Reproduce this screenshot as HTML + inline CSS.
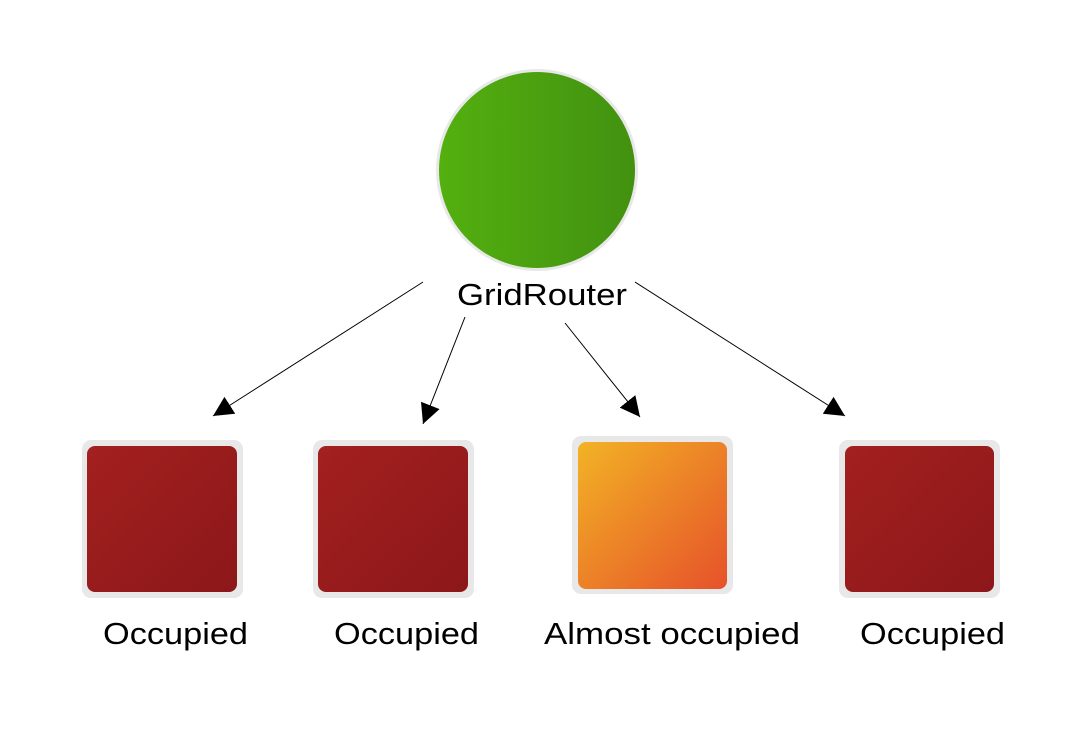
<!DOCTYPE html>
<html><head><style>
body{margin:0;width:1088px;height:734px;background:#fff;overflow:hidden;font-family:"Liberation Sans",sans-serif}
</style></head><body>
<svg width="1088" height="734" viewBox="0 0 1088 734">
<defs>
<linearGradient id="g" x1="0" y1="0" x2="1" y2="0"><stop offset="0" stop-color="#53b00f"/><stop offset="1" stop-color="#429110"/></linearGradient>
<linearGradient id="r" x1="0" y1="0" x2="1" y2="1"><stop offset="0" stop-color="#a3201e"/><stop offset="1" stop-color="#8c171a"/></linearGradient>
<linearGradient id="o" x1="0" y1="0" x2="1" y2="1"><stop offset="0" stop-color="#f2b325"/><stop offset="1" stop-color="#e6512a"/></linearGradient>
<marker id="a" viewBox="0 0 10 10" refX="10" refY="5" markerWidth="20" markerHeight="20" markerUnits="userSpaceOnUse" orient="auto"><path d="M0,0L10,5L0,10z" fill="#000"/></marker>
</defs>
<circle cx="537" cy="170" r="101" fill="#e8e8e8"/>
<circle cx="537" cy="170" r="98" fill="url(#g)"/>
<text x="457" y="305" font-size="31" textLength="170" lengthAdjust="spacingAndGlyphs">GridRouter</text>
<g stroke="#000" stroke-width="1" marker-end="url(#a)">
<line x1="423" y1="282" x2="213" y2="416"/>
<line x1="465" y1="317" x2="423" y2="424"/>
<line x1="565" y1="323" x2="640" y2="417"/>
<line x1="635" y1="282" x2="845" y2="416"/>
</g>
<rect x="82" y="440" width="161" height="158" rx="9" fill="#e8e8e8"/>
<rect x="87" y="446" width="150" height="146" rx="8" fill="url(#r)"/>
<rect x="313" y="440" width="161" height="158" rx="9" fill="#e8e8e8"/>
<rect x="318" y="446" width="150" height="146" rx="8" fill="url(#r)"/>
<rect x="572" y="436" width="161" height="158" rx="9" fill="#e8e8e8"/>
<rect x="578" y="442" width="149" height="147" rx="8" fill="url(#o)"/>
<rect x="839" y="440" width="161" height="158" rx="9" fill="#e8e8e8"/>
<rect x="845" y="446" width="149" height="146" rx="8" fill="url(#r)"/>
<g font-size="31" lengthAdjust="spacingAndGlyphs">
<text x="103" y="644" textLength="145" lengthAdjust="spacingAndGlyphs">Occupied</text>
<text x="334" y="644" textLength="145" lengthAdjust="spacingAndGlyphs">Occupied</text>
<text x="544" y="644" textLength="256" lengthAdjust="spacingAndGlyphs">Almost occupied</text>
<text x="860" y="644" textLength="145" lengthAdjust="spacingAndGlyphs">Occupied</text>
</g>
</svg>
</body></html>
